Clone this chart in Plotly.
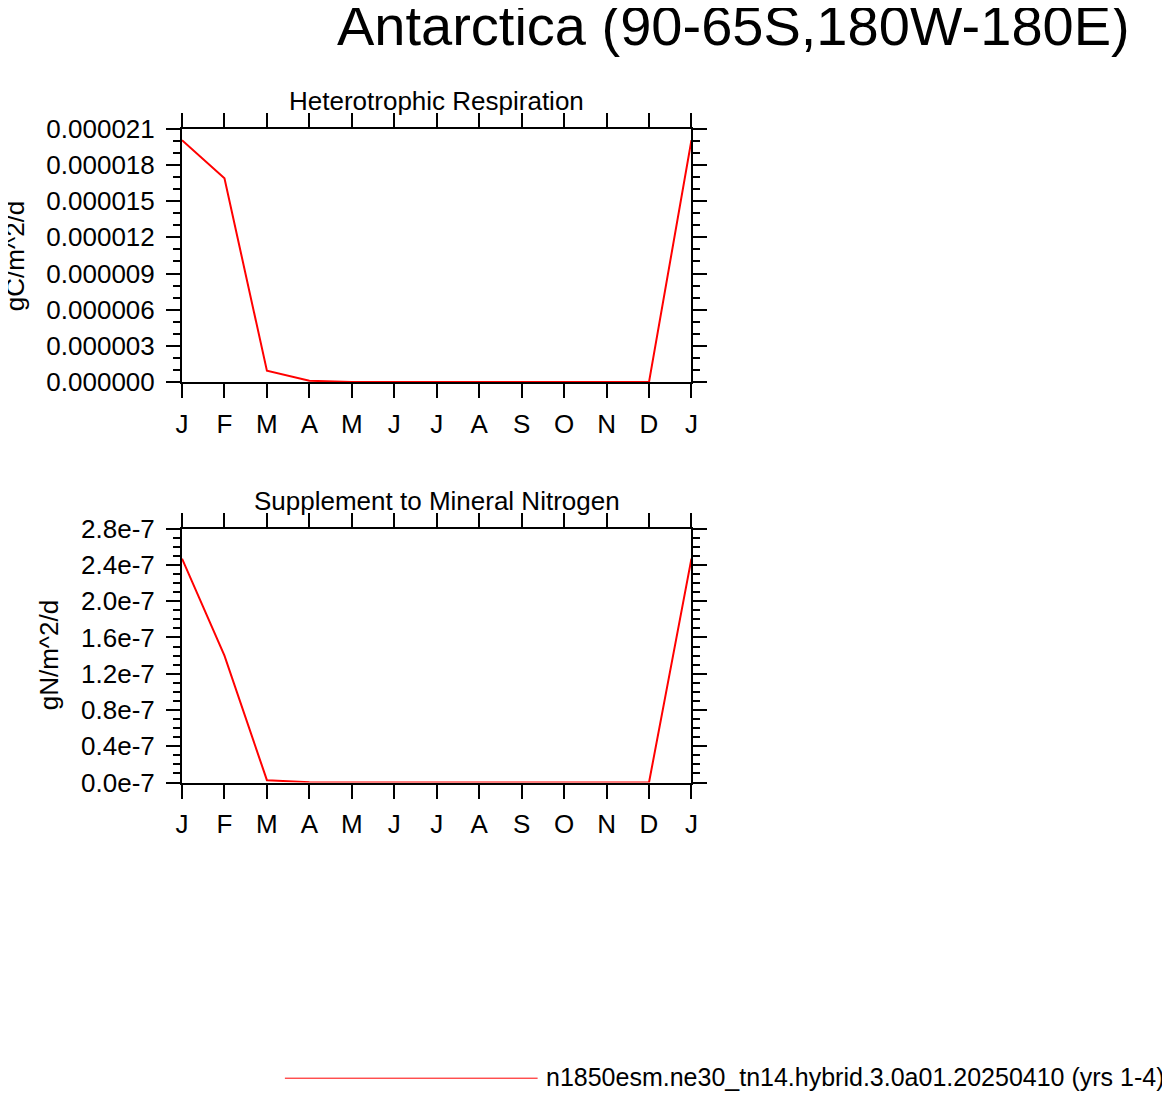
import plotly.graph_objects as go

W, H = 1170, 1094

months = ["J", "F", "M", "A", "M", "J", "J", "A", "S", "O", "N", "D", "J"]
month_pos = list(range(13))

hr_values = [20.04e-6, 16.88e-6, 0.96e-6, 0.14e-6, 0.03e-6, 0.02e-6, 0.02e-6,
             0.02e-6, 0.02e-6, 0.02e-6, 0.02e-6, 0.02e-6, 20.04e-6]
sminn_values = [2.47e-7, 1.40e-7, 0.026e-7, 0.004e-7, 0.0, 0.0, 0.0,
                0.0, 0.0, 0.0, 0.0, 0.0, 2.47e-7]

hr_tickvals = [0, 3e-6, 6e-6, 9e-6, 12e-6, 15e-6, 18e-6, 21e-6]
hr_ticktext = ["0.000000", "0.000003", "0.000006", "0.000009",
               "0.000012", "0.000015", "0.000018", "0.000021"]
sm_tickvals = [0, 0.4e-7, 0.8e-7, 1.2e-7, 1.6e-7, 2.0e-7, 2.4e-7, 2.8e-7]
sm_ticktext = ["0.0e-7", "0.4e-7", "0.8e-7", "1.2e-7", "1.6e-7",
               "2.0e-7", "2.4e-7", "2.8e-7"]

title = "Antarctica (90-65S,180W-180E)"
sub1 = "Heterotrophic Respiration"
sub2 = "Supplement to Mineral Nitrogen"
ylab1 = "gC/m^2/d"
ylab2 = "gN/m^2/d"
legend_label = "n1850esm.ne30_tn14.hybrid.3.0a01.20250410 (yrs 1-4)"

FONT = "Liberation Sans, Arial, sans-serif"

# compensation for observed render offset/scale
def cx(p):
    return (p - 13.8) / 0.99

def cy(p):
    return (p - 21.0) / 0.977

def px_x(x):
    return cx(x) / W

def px_y(y):
    return 1 - cy(y) / H

fig = go.Figure()
fig.add_trace(go.Scatter(x=month_pos, y=hr_values, mode="lines",
                         line=dict(color="#ff0000", width=2),
                         xaxis="x", yaxis="y", showlegend=False))
fig.add_trace(go.Scatter(x=month_pos, y=sminn_values, mode="lines",
                         line=dict(color="#ff0000", width=2),
                         xaxis="x2", yaxis="y2", showlegend=False))

L, R = 181, 691
top1, bot1 = 127, 382
top2, bot2 = 529, 784

common_x = dict(range=[0, 12], tickvals=month_pos, ticktext=months,
                showline=True, linewidth=2, linecolor="black", mirror="allticks",
                ticks="outside", ticklen=14, tickwidth=2, tickcolor="black",
                showgrid=False, zeroline=False, ticklabelstandoff=3,
                tickfont=dict(family=FONT, size=26, color="black"))
common_y = dict(showline=True, linewidth=2, linecolor="black", mirror="allticks",
                ticks="outside", ticklen=14, tickwidth=2, tickcolor="black",
                showgrid=False, zeroline=False, ticklabelstandoff=6,
                tickfont=dict(family=FONT, size=26, color="black"))

fig.update_layout(
    width=W, height=H, margin=dict(l=0, r=0, t=0, b=0),
    paper_bgcolor="white", plot_bgcolor="white",
    xaxis=dict(domain=[px_x(L), px_x(R)], anchor="y", **common_x),
    yaxis=dict(domain=[px_y(bot1), px_y(top1)], anchor="x", range=[0, 21e-6],
               tickvals=hr_tickvals, ticktext=hr_ticktext,
               minor=dict(dtick=1e-6, tick0=0, ticks="outside", ticklen=7,
                          tickwidth=1.5, tickcolor="black"),
               **common_y),
    xaxis2=dict(domain=[px_x(L), px_x(R)], anchor="y2", **common_x),
    yaxis2=dict(domain=[px_y(bot2), px_y(top2)], anchor="x2", range=[0, 2.8e-7],
                tickvals=sm_tickvals, ticktext=sm_ticktext,
                minor=dict(dtick=0.1e-7, tick0=0, ticks="outside", ticklen=7,
                           tickwidth=1.5, tickcolor="black"),
                **common_y),
)

ann = []
ann.append(dict(text=title, x=px_x(733), y=px_y(24), xref="paper", yref="paper",
                xanchor="center", yanchor="middle", showarrow=False,
                font=dict(family=FONT, size=56, color="black")))
ann.append(dict(text=sub1, x=px_x(436), y=px_y(99), xref="paper", yref="paper",
                xanchor="center", yanchor="middle", showarrow=False,
                font=dict(family=FONT, size=26, color="black")))
ann.append(dict(text=sub2, x=px_x(436), y=px_y(501), xref="paper", yref="paper",
                xanchor="center", yanchor="middle", showarrow=False,
                font=dict(family=FONT, size=26, color="black")))
ann.append(dict(text=ylab1, x=px_x(14), y=px_y(255), xref="paper", yref="paper",
                xanchor="center", yanchor="middle", showarrow=False, textangle=-90,
                font=dict(family=FONT, size=26, color="black")))
ann.append(dict(text=ylab2, x=px_x(48), y=px_y(656), xref="paper", yref="paper",
                xanchor="center", yanchor="middle", showarrow=False, textangle=-90,
                font=dict(family=FONT, size=26, color="black")))
ann.append(dict(text=legend_label, x=px_x(543), y=px_y(1080), xref="paper", yref="paper",
                xanchor="left", yanchor="middle", showarrow=False,
                font=dict(family=FONT, size=25, color="black")))
fig.update_layout(annotations=ann)

fig.add_shape(type="line", xref="paper", yref="paper",
              x0=px_x(284), x1=px_x(537), y0=px_y(1081), y1=px_y(1081),
              line=dict(color="#ff0000", width=1))

fig.write_html("out.html")
